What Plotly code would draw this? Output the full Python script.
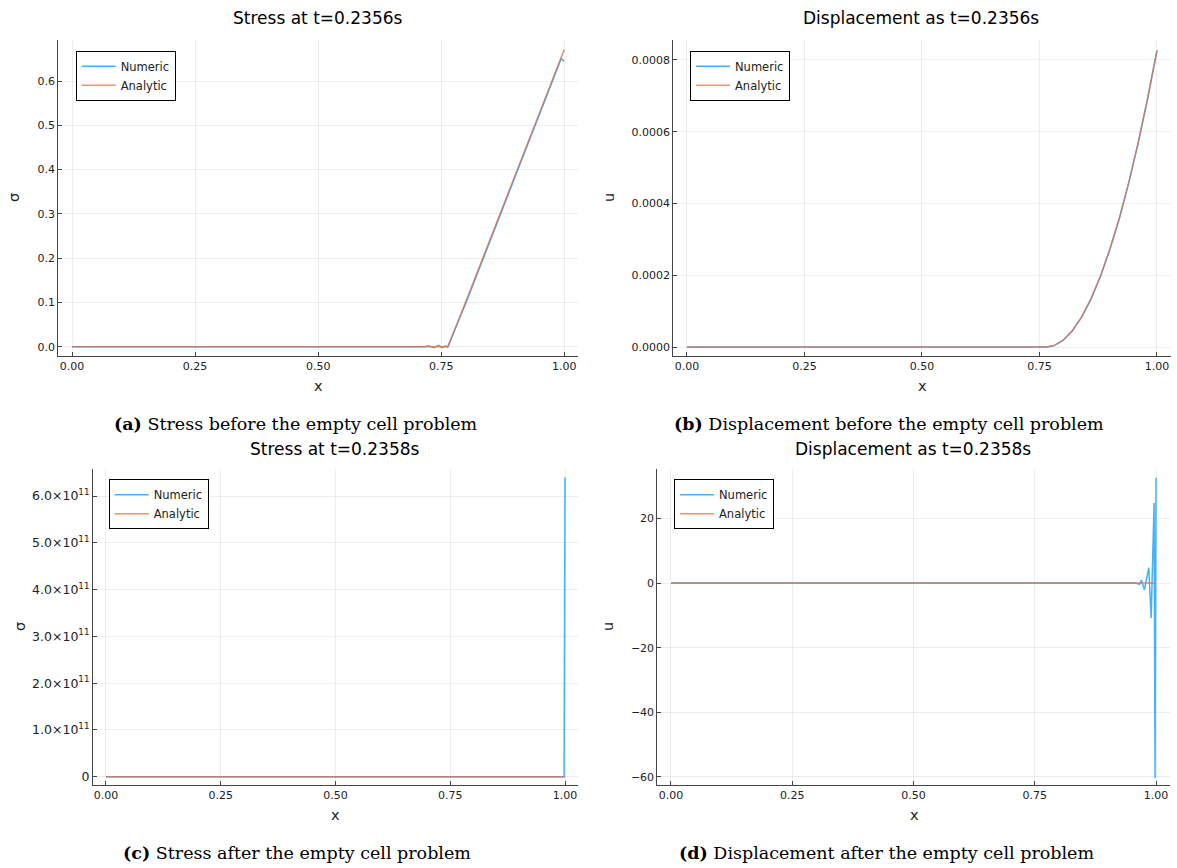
import plotly.graph_objects as go

# ---------------- data ----------------
# (a) stress at t = 0.2356 s
xa_num = [0.0, 0.715, 0.725, 0.735, 0.745, 0.752, 0.758, 0.763, 0.80, 0.85, 0.90, 0.95, 0.985, 0.994, 1.0]
sa_num = [0.0, 0.0, 0.002, -0.002, 0.003, -0.002, 0.002, -0.001, 0.098, 0.240, 0.382, 0.524, 0.624, 0.651, 0.644]
xa_ana = [0.0, 0.764, 0.80, 0.85, 0.90, 0.95, 1.0]
sa_ana = [0.0, 0.0, 0.102, 0.245, 0.387, 0.530, 0.671]

# (b) displacement at t = 0.2356 s
xb = [0.0, 0.765, 0.78, 0.80, 0.82, 0.84, 0.86, 0.88, 0.90, 0.92, 0.94, 0.96, 0.98, 1.0]
ub_num = [0.0, 0.0, 0.0000034, 0.0000183, 0.0000453, 0.0000841, 0.000135, 0.000198,
          0.000273, 0.000359, 0.000458, 0.000569, 0.000692, 0.000826]
ub_ana = [0.0, 0.0, 0.0000034, 0.0000183, 0.0000453, 0.0000841, 0.000135, 0.000198,
          0.000273, 0.000359, 0.000458, 0.000569, 0.000692, 0.000827]

# (c) stress at t = 0.2358 s
xc_num = [0.0, 0.998, 1.0]
sc_num = [0.0, 0.0, 6.4e11]
xc_ana = [0.0, 0.764, 1.0]
sc_ana = [0.0, 0.0, 0.672]

# (d) displacement at t = 0.2358 s
xd_num = [0.0, 0.957, 0.966, 0.970, 0.976, 0.985, 0.990, 0.996, 0.998, 1.0]
ud_num = [0.0, 0.0, -0.4, 0.9, -2.1, 4.8, -10.8, 24.8, -60.3, 32.6]
xd_ana = [0.0, 0.765, 1.0]
ud_ana = [0.0, 0.0, 0.00083]

x_ticks = [0.0, 0.25, 0.5, 0.75, 1.0]
x_ticklabels = ["0.00", "0.25", "0.50", "0.75", "1.00"]
c_ticks = [0, 1e11, 2e11, 3e11, 4e11, 5e11, 6e11]
c_ticklabels = ["0"] + [f"{k}.0×10<sup>11</sup>" for k in range(1, 7)]
d_ticks = [-60, -40, -20, 0, 20]
d_ticklabels = ["\u221260", "\u221240", "\u221220", "0", "20"]

titles = ["Stress at t=0.2356s", "Displacement as t=0.2356s",
          "Stress at t=0.2358s", "Displacement as t=0.2358s"]
captions = [("(a)", "Stress before the empty cell problem"),
            ("(b)", "Displacement before the empty cell problem"),
            ("(c)", "Stress after the empty cell problem"),
            ("(d)", "Displacement after the empty cell problem")]

# ---------------- style ----------------
W, H = 1177, 868
BLUE = "rgba(0,154,250,0.75)"
RED = "rgba(227,111,71,0.75)"
SANS = "DejaVu Sans"
SERIF = "DejaVu Serif"
AXIS_COLOR = "rgb(70,70,70)"
TEXT_COLOR = "#222222"

def px(x):
    return x / W

def py(y):
    return 1 - y / H

fig = go.Figure()

panels = [
    dict(xn=xa_num, yn=sa_num, xa=xa_ana, ya=sa_ana, legend="legend"),
    dict(xn=xb, yn=ub_num, xa=xb, ya=ub_ana, legend="legend2"),
    dict(xn=xc_num, yn=sc_num, xa=xc_ana, ya=sc_ana, legend="legend3"),
    dict(xn=xd_num, yn=ud_num, xa=xd_ana, ya=ud_ana, legend="legend4"),
]

for i, p in enumerate(panels):
    ax = "" if i == 0 else str(i + 1)
    fig.add_trace(go.Scatter(x=p["xn"], y=p["yn"], mode="lines", name="Numeric",
                             line=dict(color=BLUE, width=1.5),
                             xaxis="x" + ax, yaxis="y" + ax, legend=p["legend"]))
    fig.add_trace(go.Scatter(x=p["xa"], y=p["ya"], mode="lines", name="Analytic",
                             line=dict(color=RED, width=1.5),
                             xaxis="x" + ax, yaxis="y" + ax, legend=p["legend"]))

# plot-area geometry (pixels): left, right, top, bottom
boxes = [
    (58.3, 578.0, 40.0, 356.0),
    (673.3, 1170.6, 40.0, 356.0),
    (93.0, 578.0, 469.3, 785.0),
    (657.3, 1169.7, 469.3, 785.0),
]
x_ranges = [[-0.028, 1.028], [-0.029, 1.029], [-0.0283, 1.0283], [-0.0282, 1.0282]]
y_ranges = [[-0.021, 0.6926], [-0.0000251, 0.0008557], [-0.177e11, 6.571e11], [-62.5, 35.2]]

common_axis = dict(showline=True, linecolor=AXIS_COLOR, linewidth=1,
                   ticks="inside", ticklen=4, tickcolor=AXIS_COLOR,
                   showgrid=True, gridcolor="rgba(0,0,0,0.07)", gridwidth=1,
                   zeroline=False, mirror=False,
                   tickfont=dict(family=SANS, size=11, color=TEXT_COLOR))

layout = dict(width=W, height=H, margin=dict(l=0, r=0, t=0, b=0),
              paper_bgcolor="white", plot_bgcolor="white", showlegend=True)

for i, (l, r, t, b) in enumerate(boxes):
    ax = "" if i == 0 else str(i + 1)
    xa = dict(common_axis, domain=[px(l), px(r)], range=x_ranges[i],
              tickvals=x_ticks, ticktext=x_ticklabels,
              anchor="y" + ax)
    ya = dict(common_axis, domain=[py(b), py(t)], range=y_ranges[i],
              anchor="x" + ax)
    if i == 0:
        ya.update(tickvals=[0, 0.1, 0.2, 0.3, 0.4, 0.5, 0.6], tickformat=".1f")
    elif i == 1:
        ya.update(tickvals=[0, 0.0002, 0.0004, 0.0006, 0.0008], tickformat=".4f")
    elif i == 2:
        ya.update(tickvals=c_ticks, ticktext=c_ticklabels,
                  tickfont=dict(family=SANS, size=12.5, color=TEXT_COLOR))
    else:
        ya.update(tickvals=d_ticks, ticktext=d_ticklabels)
    layout["xaxis" + ax] = xa
    layout["yaxis" + ax] = ya

legend_pos = [(75.7, 50.7), (690.0, 50.7), (108.7, 479.3), (674.0, 479.3)]
for i, (lx, ly) in enumerate(legend_pos):
    key = "legend" if i == 0 else f"legend{i + 1}"
    layout[key] = dict(x=px(lx), y=py(ly), xanchor="left", yanchor="top",
                       bgcolor="white", bordercolor="black", borderwidth=1,
                       font=dict(family=SANS, size=11.5, color=TEXT_COLOR),
                       tracegroupgap=0, itemwidth=34)

fig.update_layout(**layout)

annotations = []
# subplot titles
title_pos = [(318, 18), (921, 18), (335, 449), (913, 449)]
for (tx, ty), text in zip(title_pos, titles):
    annotations.append(dict(x=px(tx), y=py(ty), xref="paper", yref="paper",
                            text=text, showarrow=False, xanchor="center", yanchor="middle",
                            font=dict(family=SANS, size=17, color="black")))
# x axis labels
xlab_pos = [(318, 386), (922, 386), (335, 815), (914, 815)]
for (tx, ty) in xlab_pos:
    annotations.append(dict(x=px(tx), y=py(ty), xref="paper", yref="paper",
                            text="x", showarrow=False, xanchor="center", yanchor="middle",
                            font=dict(family=SANS, size=14.5, color=TEXT_COLOR)))
# y axis labels
ylab = [("σ", 14, 198), ("u", 609, 198), ("σ", 20, 627), ("u", 608, 627)]
for text, tx, ty in ylab:
    annotations.append(dict(x=px(tx), y=py(ty), xref="paper", yref="paper",
                            text=text, showarrow=False, textangle=-90,
                            xanchor="center", yanchor="middle",
                            font=dict(family=SANS, size=14.5, color=TEXT_COLOR)))
# captions
cap_pos = [(296, 424), (889, 424), (297, 853), (886, 853)]
for (cx, cy), (tag, text) in zip(cap_pos, captions):
    annotations.append(dict(x=px(cx), y=py(cy), xref="paper", yref="paper",
                            text=f"<b>{tag}</b> {text}", showarrow=False,
                            xanchor="center", yanchor="middle",
                            font=dict(family=SERIF, size=17.5, color="black")))

fig.update_layout(annotations=annotations)

fig.write_html("out.html")
